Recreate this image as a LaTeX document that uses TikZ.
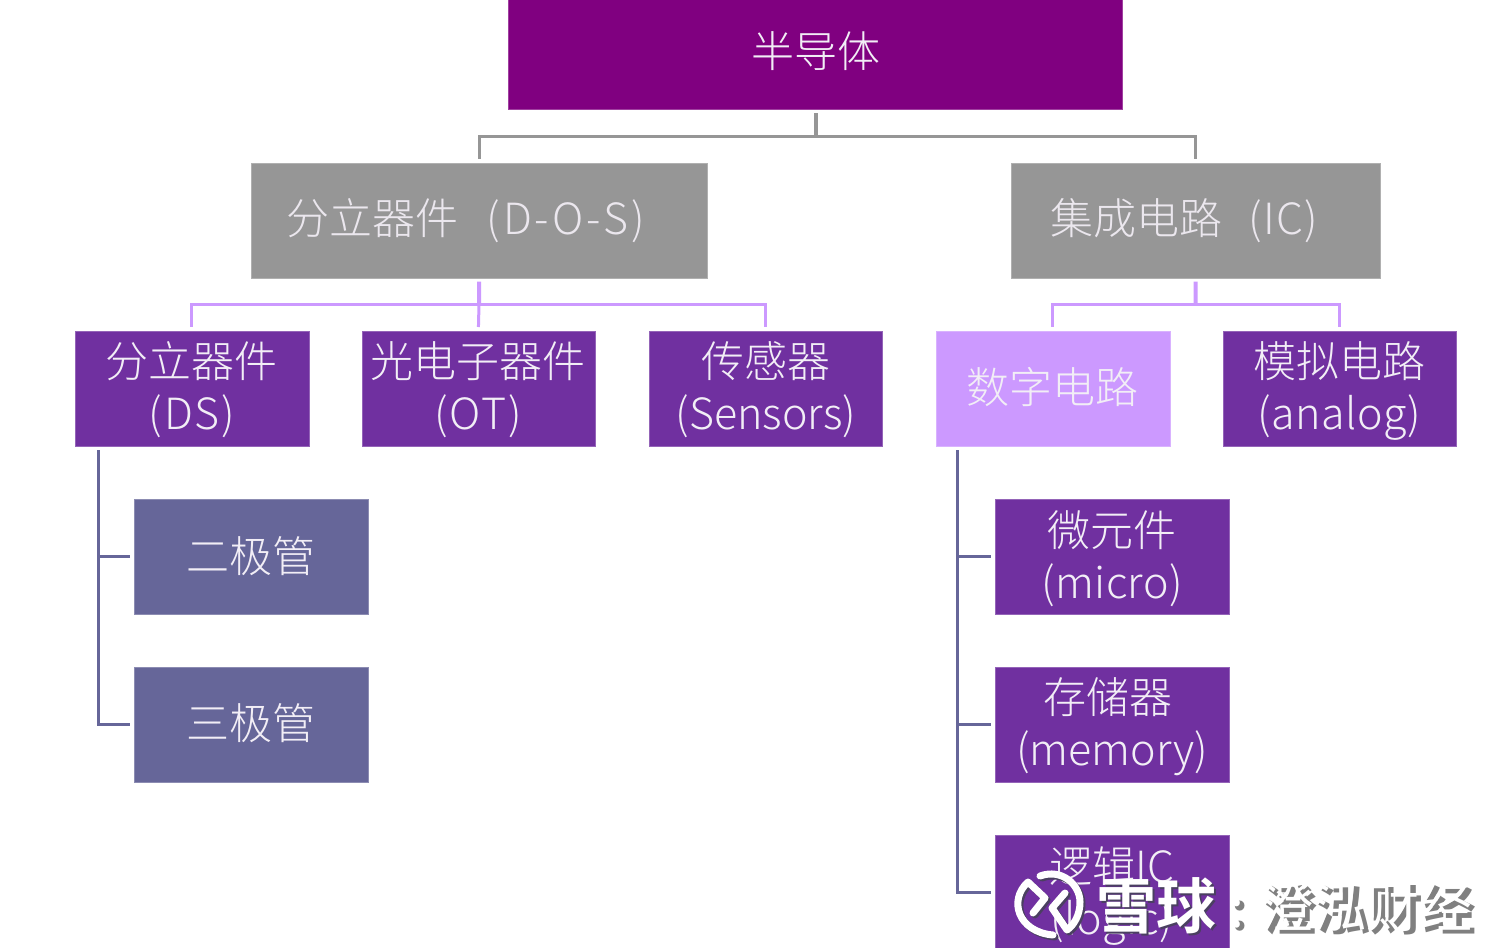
\documentclass[tikz,border=0pt]{standalone}
\usepackage{fontspec}
\setmainfont{Noto Sans CJK SC}[UprightFont=* Light,BoldFont=* Bold]
\newfontfamily\markfont{Noto Sans CJK SC}[UprightFont=* Bold]
\newfontfamily\markthin{Noto Sans CJK SC}
% Latin tracking: one width for long words, wider ones for short codes
\newcommand{\ltn}[2][1]{{\addfontfeature{LetterSpace=#1}#2}}
% Two-line label with fixed first-line height and last-line depth
\newcommand{\twolines}[3][1]{\rule{0pt}{42pt}#2\\\rule[-11pt]{0pt}{11pt}\ltn[#1]{#3}}
\definecolor{rootpurple}{HTML}{800080}
\definecolor{midgray}{HTML}{969696}
\definecolor{deeppurple}{HTML}{7030A0}
\definecolor{lilac}{HTML}{CC99FF}
\definecolor{slate}{HTML}{666699}
\definecolor{softwhite}{HTML}{F2EEF6}
\definecolor{shadowgray}{HTML}{808080}
\definecolor{logoshadow}{HTML}{4A4060}
\tikzset{
  box/.style={draw=#1!75!white,line width=.7pt,fill=#1,anchor=north west,inner sep=0pt,
    align=center,text=softwhite,font=\fontsize{43}{52}\selectfont},
  link/.style={draw=#1,line width=3pt,shorten <=3.5pt,shorten >=3.5pt},
  markstroke/.style={draw=white,line width=7pt,line cap=round,line join=round},
  markshadow/.style={draw=logoshadow,line width=7pt,line cap=round,line join=round},
}
\newcommand{\boxat}[8]{% name, colour, x, y, width, height, label, text colour
  \node[box=#2,minimum width=#5pt,minimum height=#6pt,text width=#5pt] (#1) at (#3,#4) {};
  \node[align=center,text=#8,font=\fontsize{43}{52}\selectfont,inner sep=0pt,text width=#5pt] (#1label) at (#1.center) {#7};
}
\newcommand{\logostrokes}[1]{%
  \draw[#1] (1033,913) -- (1045,898) -- (1028,882) .. controls (1008,900) and (1018,932) .. (1053,935);
  \draw[#1] (1040,876) .. controls (1062,868) and (1080,885) .. (1080,902)
     .. controls (1080,915) and (1074,925) .. (1067,930) -- (1052,908) -- (1065,893);
}
\begin{document}
\begin{tikzpicture}[x=1pt,y=-1pt]
\useasboundingbox (0,0) rectangle (1498,947);
\clip (0,0) rectangle (1498,947);
\fill[white] (0,0) rectangle (1498,947);

% Top level
\boxat{root}{rootpurple}{508}{-5}{614}{114}{\raisebox{5pt}{\hspace*{2pt}半导体}}{softwhite}

% Second level
\boxat{dos}{midgray}{251}{162.5}{455.5}{115}{\raisebox{3pt}{分立器件\hspace{28pt}\ltn[7]{(D-O-S)}\hspace*{27pt}}}{softwhite!92!midgray}
\boxat{ic}{midgray}{1011}{162.5}{368.5}{115}{\raisebox{3pt}{集成电路\hspace{26pt}\ltn[3]{(IC)}\hspace*{22pt}}}{softwhite!92!midgray}

% Third level
\boxat{ds}{deeppurple}{74.5}{330.5}{234}{115}{\twolines[4]{分立器件}{(DS)}}{softwhite}
\boxat{ot}{deeppurple}{361.5}{330.5}{233}{115}{\twolines[4]{光电子器件}{(OT)}}{softwhite}
\boxat{sensors}{deeppurple}{649}{330.5}{233}{115}{\twolines[0]{传感器}{(Sensors)}}{softwhite}
\boxat{digital}{lilac}{935.5}{330.5}{234}{115}{\raisebox{5pt}{数字电路}}{softwhite}
\boxat{analog}{deeppurple}{1222.5}{330.5}{233.5}{115}{\twolines[1]{模拟电路}{(analog)}}{softwhite}

% Discrete devices
\boxat{diode}{slate}{133.5}{499}{234.5}{114.5}{\raisebox{5pt}{二极管}}{softwhite}
\boxat{triode}{slate}{133.5}{666.5}{234.5}{115}{\raisebox{5pt}{三极管}}{softwhite}

% Digital circuits
\boxat{micro}{deeppurple}{994.5}{499}{234.5}{114.5}{\twolines[1]{微元件}{(micro)}}{softwhite}
\boxat{memory}{deeppurple}{994.5}{666.5}{234.5}{115}{\twolines[0]{\hspace*{-8pt}存储器}{(memory)}}{softwhite}
\boxat{logic}{deeppurple}{994.5}{835}{234.5}{115}{\twolines{逻辑IC}{(logic)}}{softwhite}

% Bus lines between levels
\coordinate (rootbus) at (816,136);
\coordinate (dosbus) at (479,304.5);
\coordinate (icbus) at (1195.5,304.5);
\coordinate (dstrunk) at (98,446.5);
\coordinate (digitaltrunk) at (957,446.5);

\draw[link=midgray,line width=4pt,shorten >=-1pt] (root.south -| rootbus) -- (rootbus);
\draw[link=midgray,shorten <=0pt] (rootbus) -| (dos.north);
\draw[link=midgray,shorten <=0pt] (rootbus) -| (ic.north);

\draw[link=lilac,line width=4pt,shorten >=0pt] (dos.south) -- (dosbus);
\draw[link=lilac,shorten <=0pt] (dosbus) -| (ds.north);
\draw[link=lilac,shorten <=0pt] (dosbus) -- (ot.north);
\draw[link=lilac,shorten <=0pt] (dosbus) -| (sensors.north);

\draw[link=lilac,line width=4pt,shorten >=0pt] (ic.south) -- (icbus);
\draw[link=lilac,shorten <=0pt] (icbus) -| (digital.north);
\draw[link=lilac,shorten <=0pt] (icbus) -| (analog.north);

\draw[link=slate] (dstrunk) |- (diode.west);
\draw[link=slate] (dstrunk) |- (triode.west);
\draw[link=slate] (digitaltrunk) |- (micro.west);
\draw[link=slate] (digitaltrunk) |- (memory.west);
\draw[link=slate] (digitaltrunk) |- (logic.west);

% Publisher's mark in the lower right corner
\begin{scope}[shift={(2,2)}]
  \logostrokes{markshadow}
\end{scope}
\logostrokes{markstroke}
\node[text=logoshadow,font=\markfont\fontsize{60}{60}\selectfont,inner sep=0pt] (marksh) at (1158,908) {雪球};
\node[text=white,font=\markfont\fontsize{60}{60}\selectfont,inner sep=0pt] (markname) at (1156,906) {雪球};
\node[text=shadowgray,font=\markfont\fontsize{53}{53}\selectfont,inner sep=0pt] (tagsh) at (1354,910) {: 澄泓财经};
\node[text=white,font=\markthin\fontsize{53}{53}\selectfont,inner sep=0pt] (tag) at (1351,907) {: 澄泓财经};
\end{tikzpicture}
\end{document}
